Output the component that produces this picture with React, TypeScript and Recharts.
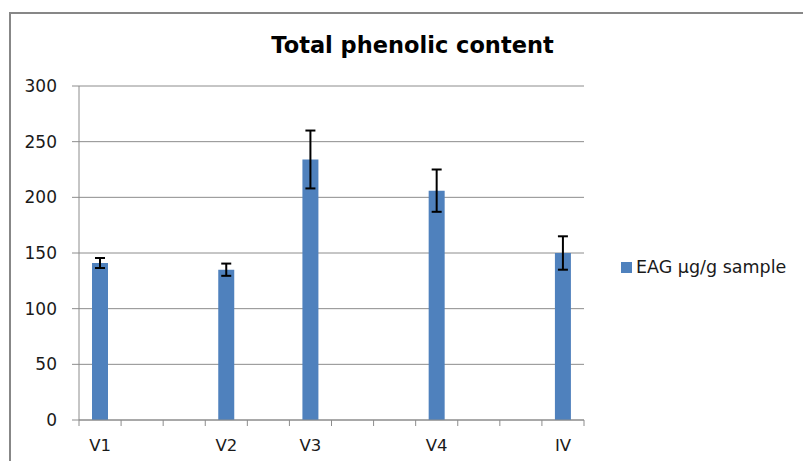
import React from 'react';
import { BarChart, Bar, XAxis, YAxis, CartesianGrid, ErrorBar, Legend } from 'recharts';

const categories = ['V1', '', '', 'V2', '', 'V3', '', '', 'V4', '', '', 'IV'];
const values: (number | null)[] = [141, null, null, 135, null, 234, null, null, 206, null, null, 150];
const errors: (number | null)[] = [4.5, null, null, 5.5, null, 26, null, null, 19, null, null, 15];
const yTicks = [0, 50, 100, 150, 200, 250, 300];
const seriesName = 'EAG µg/g sample';
const title = 'Total phenolic content';

const data = categories.map((c, i) => ({
  slot: `s${i}`,
  label: c,
  value: values[i],
  err: errors[i] == null ? undefined : errors[i],
}));

const FONT = '"DejaVu Sans", Verdana, sans-serif';
const GRID = '#8c8c8c';
const BLUE = '#4F81BD';
const W = 803;
const H = 461;
const PLOT_LEFT = 79;
const PLOT_RIGHT = 584;
const TICK_SIZE = 6;
const TICK_MARGIN = 4;

const XTick = (props: any) => {
  const { x, y, index } = props;
  const band = (PLOT_RIGHT - PLOT_LEFT) / categories.length;
  const axisY = y - TICK_SIZE - TICK_MARGIN;
  const left = x - band / 2;
  return (
    <g>
      <line x1={left} y1={axisY} x2={left} y2={axisY + TICK_SIZE} stroke={GRID} strokeWidth={1} />
      {index === categories.length - 1 && (
        <line x1={x + band / 2} y1={axisY} x2={x + band / 2} y2={axisY + TICK_SIZE} stroke={GRID} strokeWidth={1} />
      )}
      <text x={x} y={axisY + 31} textAnchor="middle" fontFamily={FONT} fontSize={16.5} fill="#1a1a1a">
        {categories[index]}
      </text>
    </g>
  );
};

const LegendContent = () => (
  <div style={{ display: 'flex', alignItems: 'center', fontFamily: FONT, fontSize: 17.5, color: '#1a1a1a', whiteSpace: 'nowrap' }}>
    <span style={{ display: 'inline-block', width: 11, height: 11, background: BLUE, marginRight: 4 }} />
    <span>{seriesName}</span>
  </div>
);

export default function App() {
  return (
    <div style={{ position: 'absolute', left: 0, top: 0, width: W, height: H, background: '#fff', overflow: 'hidden' }}>
      <div
        style={{
          position: 'absolute',
          left: 9,
          top: 12,
          width: W,
          height: H,
          borderLeft: '2px solid #878787',
          borderTop: '2px solid #878787',
        }}
      />
      <div
        style={{
          position: 'absolute',
          left: 0,
          top: 32,
          width: 825,
          textAlign: 'center',
          fontFamily: FONT,
          fontWeight: 'bold',
          fontSize: 22.5,
          color: '#000',
          lineHeight: '27px',
          whiteSpace: 'nowrap',
        }}
      >
        {title}
      </div>
      <div style={{ position: 'absolute', left: 0, top: 0 }}>
        <BarChart
          width={W}
          height={H}
          data={data}
          margin={{ top: 86, right: W - PLOT_RIGHT, bottom: 0, left: 0 }}
          barSize={16}
        >
          <CartesianGrid vertical={false} stroke={GRID} strokeWidth={1} />
          <XAxis
            dataKey="slot"
            type="category"
            height={41}
            interval={0}
            tickSize={TICK_SIZE}
            tickMargin={TICK_MARGIN}
            tickLine={false}
            axisLine={{ stroke: GRID, strokeWidth: 1 }}
            tick={<XTick />}
          />
          <YAxis
            width={PLOT_LEFT}
            domain={[0, 300]}
            ticks={yTicks}
            interval={0}
            tickSize={7}
            tickMargin={15}
            tickLine={{ stroke: GRID }}
            axisLine={{ stroke: GRID, strokeWidth: 1 }}
            tick={{ fontFamily: FONT, fontSize: 17, fill: '#1a1a1a' }}
          />
          <Legend
            layout="horizontal"
            verticalAlign="middle"
            align="center"
            content={<LegendContent />}
            wrapperStyle={{ position: 'absolute', left: 621, top: 257, width: 182 }}
          />
          <Bar dataKey="value" name={seriesName} fill={BLUE} isAnimationActive={false}>
            <ErrorBar dataKey="err" width={5} stroke="#000" strokeWidth={2} direction="y" isAnimationActive={false} />
          </Bar>
        </BarChart>
      </div>
    </div>
  );
}
